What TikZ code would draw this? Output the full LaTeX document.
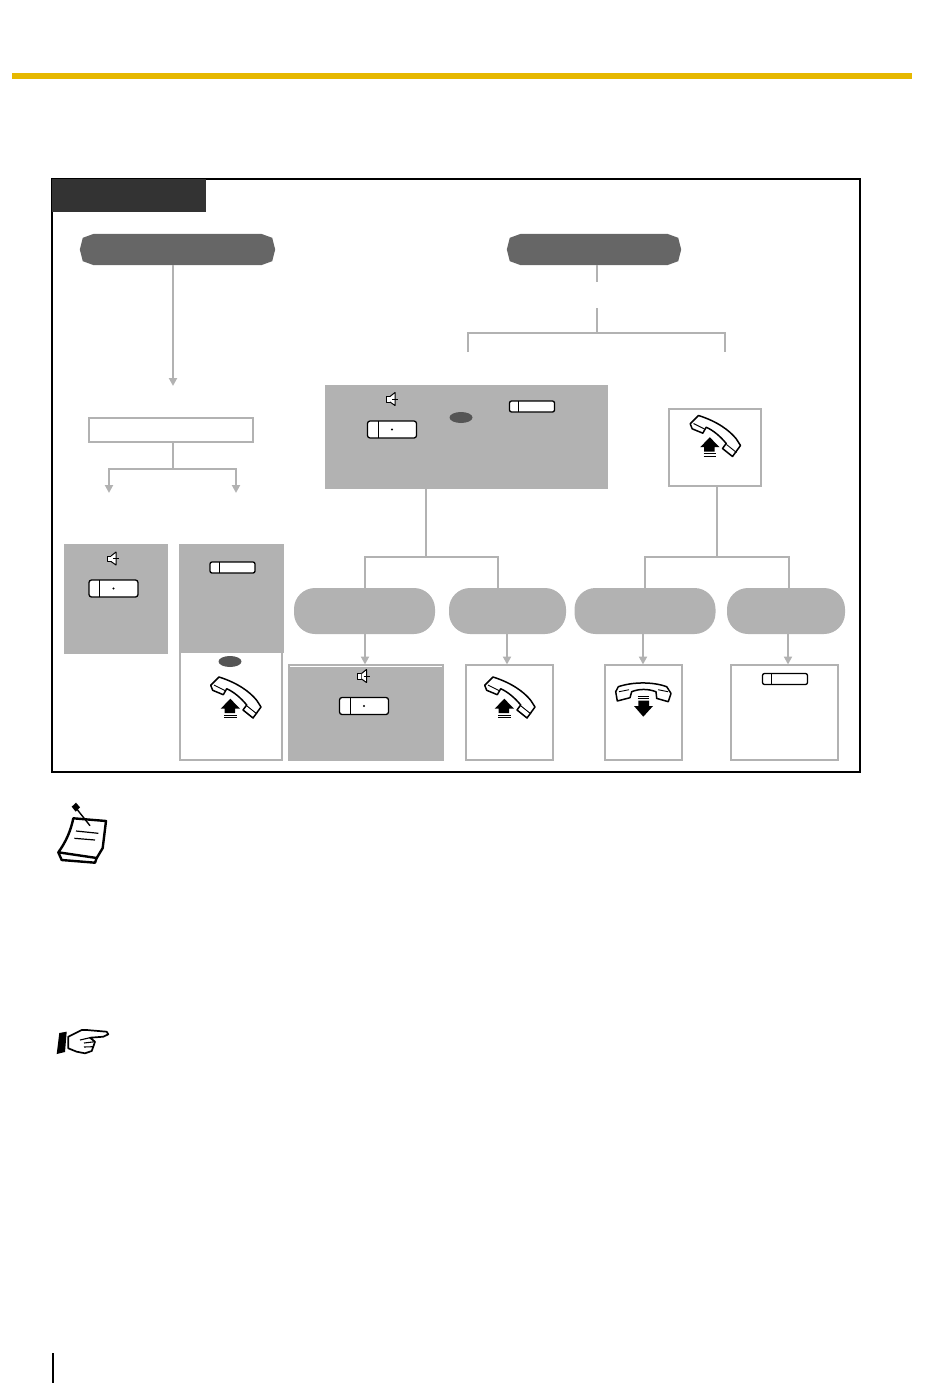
\documentclass[tikz,border=0pt]{standalone}
\usepackage{xcolor}
\usepackage{tikz}
\usetikzlibrary{shapes.geometric, arrows.meta, calc}
\definecolor{barcol}{HTML}{E6B800}
\definecolor{linecol}{HTML}{B2B2B2}
\definecolor{pillcol}{HTML}{666666}
\definecolor{tabcol}{HTML}{333333}
\definecolor{ovalcol}{HTML}{555555}
\tikzstyle{tab} = [rectangle, inner sep=0, fill=tabcol]
\tikzstyle{darkpill} = [rectangle, inner sep=0, minimum height=31pt]
\tikzstyle{lightpill} = [rectangle, inner sep=0, rounded corners=21pt, minimum height=46pt, fill=linecol]
\tikzstyle{shaded} = [rectangle, inner sep=0, fill=linecol]
\tikzstyle{plain} = [rectangle, inner sep=0, draw=linecol, line width=2pt, fill=white]
\tikzstyle{oval} = [ellipse, inner sep=0, minimum width=23pt, minimum height=11pt, fill=ovalcol]
\tikzstyle{link} = [draw=linecol, line width=2pt]
\tikzstyle{arrow} = [link, -{Triangle[width=8pt,length=8pt]}, color=linecol]
\tikzstyle{ink} = [draw=black, line width=1.5pt, line join=round, fill=white]
\newcommand{\darkends}[1]{\fill [pillcol] ($(#1.north west)+(14,0)$) -- ($(#1.north west)+(3,4)$) -- (#1.west) -- ($(#1.south west)+(3,-4)$) -- ($(#1.south west)+(14,0)$) -- ($(#1.south east)+(-14,0)$) -- ($(#1.south east)+(-3,-4)$) -- (#1.east) -- ($(#1.north east)+(-3,4)$) -- ($(#1.north east)+(-14,0)$) -- cycle;}
\tikzset{
  bigkey/.pic={
    \draw [ink, line width=1.3pt, rounded corners=2.5pt] (0,0) rectangle (49,17);
    \draw [black, line width=0.9pt] (10.5,0) -- (10.5,17);
    \fill [black] (24.5,8.5) circle (1.1);
  },
  smallkey/.pic={
    \draw [ink, line width=1.3pt, rounded corners=2pt] (0,0) rectangle (45,11);
    \draw [black, line width=0.9pt] (9,0) -- (9,11);
  },
  speaker/.pic={
    \draw [ink, line width=1pt] (0,4.5) rectangle (4,10);
    \draw [ink, line width=1pt] (4,4.5) -- (9,0.5) -- (9,13.5) -- (4,10);
    \draw [black, line width=0.8pt] (6,7) -- (12,7);
  },
  pickup/.pic={
    \draw [ink] (9,0) -- (0.7,8.3) -- (2.7,13.3) -- (13.3,17.7) -- (16.7,11.7) .. controls (24,15) and (31,21) .. (36.7,28) -- (33,33) -- (43,41) -- (51,30) -- (46.7,23.3) .. controls (40,15) and (28,6) .. cycle;
    \draw [black, line width=0.9pt] (4,8) -- (15,13.5);
    \draw [black, line width=0.9pt] (37,29) -- (47,37);
    \fill [black] (20.3,21.7) -- (30,31.7) -- (25,31.7) -- (25,36) -- (14.7,36) -- (14.7,31.7) -- (10.7,31.7) -- cycle;
    \draw [black, line width=1pt] (14,38) -- (26.7,38) (14,40.5) -- (26.7,40.5);
  },
  hangup/.pic={
    \draw [ink] (0.7,9) -- (3.3,4) .. controls (18,-1) and (38,-1) .. (51.7,4) -- (56,10.7) -- (53.3,19) -- (41.7,15.7) -- (41,9) .. controls (33,6) and (24,6) .. (16.7,9) -- (15,15) -- (2.3,18.3) -- cycle;
    \draw [black, line width=0.9pt] (4,9) -- (14,7) (43,7) -- (53,9);
    \draw [black, line width=1pt] (22.7,14) -- (34,14) (22.7,16) -- (34,16);
    \fill [black] (23.3,18) -- (34,18) -- (34,23.3) -- (38,23.3) -- (28.3,34) -- (19,23.3) -- (23.3,23.3) -- cycle;
  },
}

\begin{document}
\begin{tikzpicture}[x=1pt, y=-1pt]
\useasboundingbox (0,0) rectangle (950,1397);

% page furniture
\fill [barcol] (12,73) rectangle (912,79);
\draw [black, line width=1.5pt] (53,1353) -- (53,1383);

\draw [black, line width=2pt] (52,179) rectangle (860,772);
\node (title) [tab, minimum width=154pt, minimum height=33pt] at (129,195.5) {};

% top row
\node (startleft) [darkpill, minimum width=195pt] at (177.5,249.5) {};
\darkends{startleft}
\node (startright) [darkpill, minimum width=174pt] at (594,249.5) {};
\darkends{startright}

% left branch
\node (entry) [plain, minimum width=164pt, minimum height=24pt] at (171,430) {};
\node (spkcase) [shaded, minimum width=104pt, minimum height=110pt] at (116,599) {};
\node (offcase) [plain, minimum width=102pt, minimum height=108pt] at (231,706) {};
\node (cocase) [shaded, minimum width=105pt, minimum height=109pt] at (231.5,598.5) {};

% middle and right branch
\node (cases) [shaded, minimum width=283pt, minimum height=104pt] at (466.5,437) {};
\node (lifted) [plain, minimum width=92pt, minimum height=77pt] at (715,447.5) {};

\node (pilla) [lightpill, minimum width=141pt] at (364.5,611) {};
\node (pillb) [lightpill, minimum width=117pt] at (507.5,611) {};
\node (pillc) [lightpill, minimum width=141pt] at (645,611) {};
\node (pilld) [lightpill, minimum width=118pt] at (786,611) {};

\node (boxa) [shaded, minimum width=156pt, minimum height=97pt] at (366,712.5) {};
\draw [white, line width=0.7pt] (290,666.2) -- (442,666.2);
\node (boxb) [plain, minimum width=87pt, minimum height=95pt] at (509.5,712.5) {};
\node (boxc) [plain, minimum width=77pt, minimum height=95pt] at (643.5,712.5) {};
\node (boxd) [plain, minimum width=107pt, minimum height=95pt] at (784.5,712.5) {};

% free ends and forks
\coordinate (tipleft) at (173,386);
\coordinate (forkentry) at (173,468.5);
\coordinate (tipspk) at (109,493);
\coordinate (tipco) at (236,493);
\coordinate (stubend) at (597,282);
\coordinate (stubstart) at (597,308);
\coordinate (forkright) at (597,333);
\coordinate (endcases) at (468,352);
\coordinate (endlifted) at (725,352);
\coordinate (forkcases) at (426,557);
\coordinate (forklifted) at (717,557);
\coordinate (dropa) at (365,588);
\coordinate (dropb) at (498,588);
\coordinate (dropc) at (645,588);
\coordinate (dropd) at (789,588);
\coordinate (tipa) at (365,664.5);
\coordinate (tipb) at (507,664.5);
\coordinate (tipc) at (643,664.5);
\coordinate (tipd) at (788,664.5);

\draw [arrow] (startleft.south -| tipleft) -- (tipleft);
\draw [link] (entry.south -| forkentry) -- (forkentry);
\draw [arrow] (forkentry) -| (tipspk);
\draw [arrow] (forkentry) -| (tipco);

\draw [link] (startright.south -| stubend) -- (stubend);
\draw [link] (stubstart) -- (forkright);
\draw [link] (endcases) |- (forkright) -| (endlifted);

\draw [link] (cases.south -| forkcases) -- (forkcases);
\draw [link] (dropa) |- (forkcases) -| (dropb);
\draw [link] (lifted.south -| forklifted) -- (forklifted);
\draw [link] (dropc) |- (forklifted) -| (dropd);

\draw [arrow] (pilla.south -| tipa) -- (tipa);
\draw [arrow] (pillb.south -| tipb) -- (tipb);
\draw [arrow] (pillc.south -| tipc) -- (tipc);
\draw [arrow] (pilld.south -| tipd) -- (tipd);

% keys and handsets
\pic at (107,551.5) {speaker};
\pic at (89,580) {bigkey};
\pic at (210,562) {smallkey};
\node (ovalco) [oval] at (230,661.5) {};
\pic at (210,677) {pickup};

\pic at (386,392) {speaker};
\pic at (367.5,421) {bigkey};
\node (ovalcases) [oval] at (461,417.5) {};
\pic at (509.5,401) {smallkey};
\pic at (689.5,415.5) {pickup};

\pic at (357.5,669) {speaker};
\pic at (339.5,697.5) {bigkey};
\pic at (484,677) {pickup};
\pic at (615,682.7) {hangup};
\pic at (762.5,673.5) {smallkey};

% note sign
\draw [black, line width=2.4pt, fill=white, line join=round] (58.3,852.3) -- (61.7,860) -- (95,862.7) -- (97,857);
\draw [black, line width=2.4pt, fill=white, line join=round] (73.3,818.3) -- (106,821) -- (102.7,848) -- (96.7,858) -- (58.3,852.3) .. controls (66,842) and (71,830) .. cycle;
\draw [black, line width=1.2pt] (76,831) -- (98.3,833.3) (74.3,838.3) -- (95,840);
\fill [black] (71.7,806.7) -- (76,802.7) -- (80,807.3) -- (75.7,811.7) -- cycle;
\draw [black, line width=1.4pt] (76,808) -- (90,825.7);

% pointing hand
\fill [black] (59.3,1033) -- (66.7,1031.7) -- (65,1052) -- (56.7,1054) -- cycle;
\draw [black, line width=1.7pt, fill=white, line join=round] (68.3,1036.7) -- (81.7,1030) -- (86.7,1030) -- (106.7,1031.7) -- (108.3,1034.3) -- (103.3,1036.7) -- (90,1037.7) -- (95,1041.7) -- (93.3,1046.7) -- (91.7,1051) -- (85,1053.3) -- (76.7,1051.7) -- (68.3,1048.3) -- cycle;
\draw [black, line width=1.1pt] (90,1037.7) -- (80,1040) (95,1041.7) -- (84,1043) (93.3,1046.7) -- (84,1047);

\end{tikzpicture}
\end{document}
